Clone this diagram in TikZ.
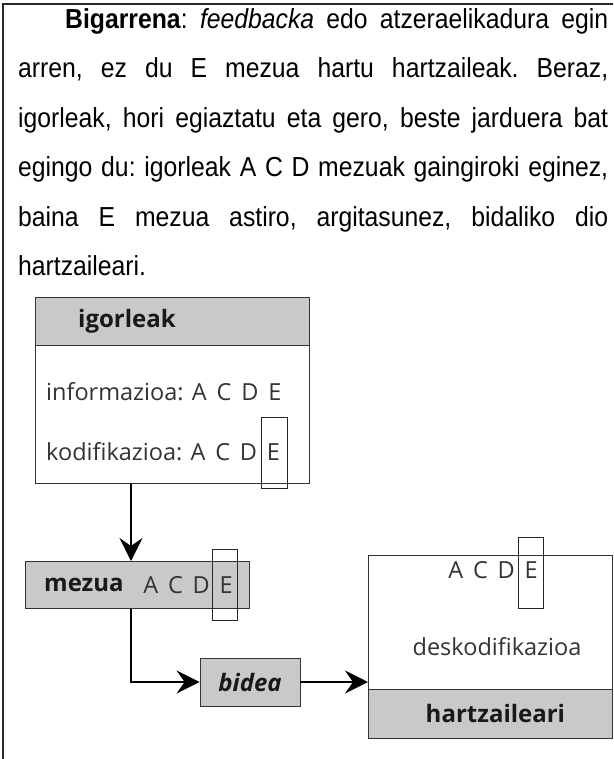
\documentclass[tikz,border=0pt]{standalone}
\usepackage{fontspec}
\setmainfont{Liberation Sans}[FakeStretch=0.9]
\newfontfamily\dfont{Open Sans}
\usetikzlibrary{arrows.meta}
\definecolor{boxgray}{HTML}{C8C9CB}
\definecolor{framegray}{HTML}{2B2B2B}
\newcommand{\lsp}{\hspace{0.42em}}
\begin{document}
\begin{tikzpicture}[x=1pt,y=1pt,
  frame/.style={line width=2.2pt, draw=framegray},
  box/.style={draw=black!80, line width=0.8pt, inner sep=0pt},
  graybox/.style={box, fill=boxgray},
  conn/.style={line width=2pt, -{Stealth[length=23pt,width=23pt,inset=8pt]}},
  ebox/.style={draw=black!85, line width=1.2pt, inner sep=0pt},
  dtext/.style={font=\dfont\fontsize{23.5}{26}\selectfont, text=black!80, inner sep=0pt},
  btext/.style={font=\dfont\bfseries\fontsize{24}{26}\selectfont, text=black!90, inner sep=0pt},
]
\useasboundingbox (0,0) rectangle (613,-759);
\draw[frame] (3,-759) -- (3,-4) -- (613,-4);

\node[anchor=north west, text width=590pt, inner sep=0pt, align=justify,
      font=\fontsize{27.5}{49.5}\selectfont\frenchspacing] (para) at (18,-8)
{\hspace*{47pt}\textbf{Bigarrena}: \textit{feedbacka} edo atzeraelikadura egin\linebreak
arren, ez du E mezua hartu hartzaileak. Beraz,\linebreak
igorleak, hori egiaztatu eta gero, beste jarduera bat\linebreak
egingo du: igorleak A C D mezuak gaingiroki eginez,\linebreak
baina E mezua astiro, argitasunez, bidaliko dio\linebreak
hartzaileari.};

% igorleak
\node[box, minimum width=274pt, minimum height=186pt, anchor=north west] (igor) at (35,-297) {};
\node[graybox, minimum width=274pt, minimum height=48pt, anchor=north west] (igorh) at (35,-297) {};
\node[btext, anchor=west] (igorl) at (78,-321) {igorleak};
\node[dtext, anchor=west] (info) at (46,-392) {informazioa: A\lsp C\lsp D\lsp E};
\node[dtext, anchor=west] (kodi) at (46,-452) {kodifikazioa: A\lsp C\lsp D\lsp E};
\node[ebox, minimum width=26pt, minimum height=71pt, anchor=north west] (e1) at (261,-417) {};

% mezua
\node[graybox, minimum width=224pt, minimum height=47pt, anchor=north west] (mezua) at (25,-561) {};
\node[btext, anchor=west] (mezl) at (44,-585) {mezua};
\node[dtext, anchor=east] (mezacde) at (233,-585) {A\lsp C\lsp D\lsp E};
\node[ebox, minimum width=25pt, minimum height=71pt, anchor=north west] (e2) at (212,-549) {};

% bidea
\node[graybox, btext, minimum width=100pt, minimum height=48pt] (bidea) at (250,-682) {\itshape bidea};

% hartzaileari
\node[box, minimum width=244pt, minimum height=183pt, anchor=north west] (recv) at (368,-555) {};
\node[graybox, minimum width=244pt, minimum height=49pt, anchor=south] (recvh) at (recv.south) {};
\node[btext] (hartz) at ([xshift=5pt]recvh.center) {hartzaileari};
\node[dtext] (desk) at (497,-647) {deskodifikazioa};
\node[dtext, anchor=east] (racde) at (538,-570) {A\lsp C\lsp D\lsp E};
\node[ebox, minimum width=25pt, minimum height=71pt, anchor=north west] (e3) at (518,-537) {};

% connectors
\draw[conn] ([xshift=96pt]igor.south west) -- ([xshift=106pt]mezua.north west);
\draw[conn] ([xshift=106pt]mezua.south west) |- (bidea.west);
\draw[conn] (bidea.east) -- (bidea.east -| recv.west);
\end{tikzpicture}
\end{document}
